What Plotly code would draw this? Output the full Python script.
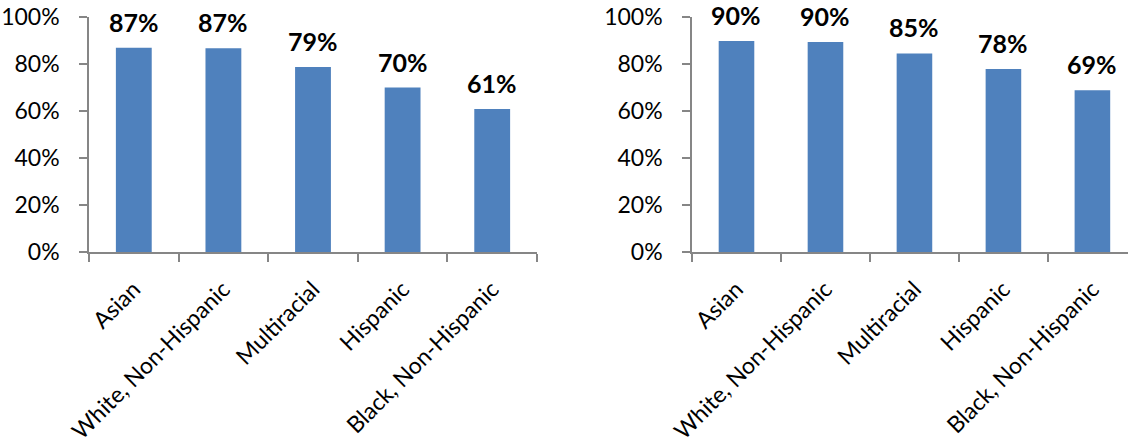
import plotly.graph_objects as go
from plotly.subplots import make_subplots

categories = ["Asian", "White, Non-Hispanic", "Multiracial", "Hispanic", "Black, Non-Hispanic"]
left_values = [0.869, 0.867, 0.787, 0.70, 0.609]
right_values = [0.898, 0.894, 0.845, 0.779, 0.688]
left_labels = ["87%", "87%", "79%", "70%", "61%"]
right_labels = ["90%", "90%", "85%", "78%", "69%"]
y_ticks = [0, 0.2, 0.4, 0.6, 0.8, 1.0]
y_tick_text = ["0%", "20%", "40%", "60%", "80%", "100%"]

W, H = 1128, 445
BAR = "#4F81BD"
AX = "#868686"
FONT = "Lato"

fig = make_subplots(rows=1, cols=2)
fig.add_trace(go.Bar(x=categories, y=left_values, marker_color=BAR, width=0.4,
                     marker_line_width=0, showlegend=False, hoverinfo="skip"), row=1, col=1)
fig.add_trace(go.Bar(x=categories, y=right_values, marker_color=BAR, width=0.4,
                     marker_line_width=0, showlegend=False, hoverinfo="skip"), row=1, col=2)

for xref, yref, vals, labs in [("x", "y", left_values, left_labels), ("x2", "y2", right_values, right_labels)]:
    for c, v, t in zip(categories, vals, labs):
        fig.add_annotation(x=c, y=v, xref=xref, yref=yref, text="<b>" + t + "</b>",
                           showarrow=False, yanchor="middle", yshift=26,
                           font=dict(family=FONT, size=25, color="#000000"))

xcommon = dict(showline=True, linecolor=AX, linewidth=1.5, ticks="outside", ticklen=8,
               tickcolor=AX, tickwidth=1.5, tickson="boundaries", tickangle=-45,
               tickfont=dict(family=FONT, size=23, color="#000000"), showgrid=False,
               ticklabelstandoff=13, zeroline=False, fixedrange=True, automargin=False)
ycommon = dict(showline=True, linecolor=AX, linewidth=1.5, ticks="outside", ticklen=8,
               tickcolor=AX, tickwidth=1.5, tickvals=y_ticks, ticktext=y_tick_text,
               range=[0, 1], tickfont=dict(family=FONT, size=23, color="#000000"),
               showgrid=False, zeroline=False, ticklabelstandoff=15, fixedrange=True,
               automargin=False)

fig.update_xaxes(**xcommon)
fig.update_yaxes(**ycommon)
fig.update_layout(
    xaxis=dict(domain=[89 / W, 537 / W], range=[-0.5, 4.5]),
    xaxis2=dict(domain=[692 / W, 1.0], range=[-0.5, 4.4]),
    width=W, height=H,
    margin=dict(l=0, r=0, t=17, b=193),
    plot_bgcolor="white", paper_bgcolor="white",
    bargap=0.6,
)
fig.write_html("out.html", config={"displayModeBar": False})
